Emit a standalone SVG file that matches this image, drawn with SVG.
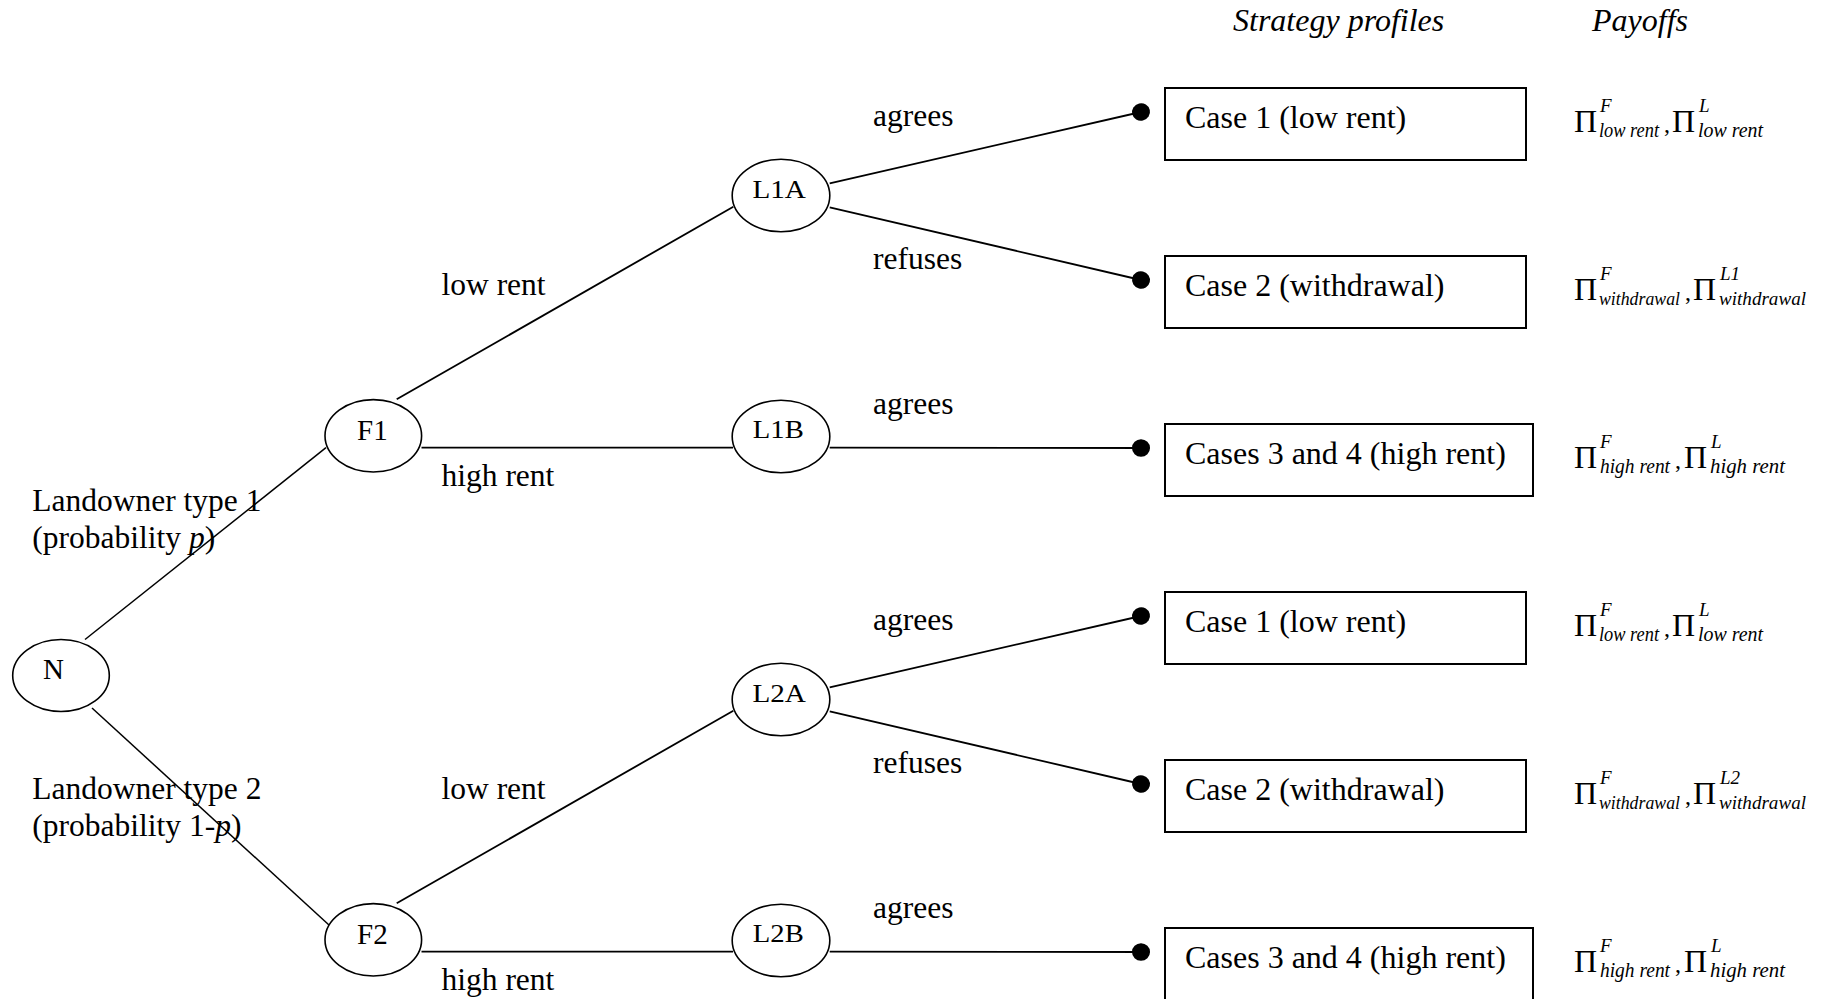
<svg xmlns="http://www.w3.org/2000/svg" width="1822" height="999" viewBox="0 0 1822 999">
<style>
text{font-family:"Liberation Serif","Times New Roman",serif;fill:#000}
.node{fill:#fff;stroke:#000;stroke-width:1.6}
.box{fill:#fff;stroke:#000;stroke-width:2}
.edge{fill:none;stroke:#000;stroke-width:1.8}
.thin{stroke-width:1.5}
.lbl{font-size:31.5px}
.nl{font-size:29px}
.ll{font-size:25px}
.cs{font-size:32px}
.hd{font-size:32px;font-style:italic}
.pi{font-size:32px}
.cm{font-size:24px}
.sp{font-size:19px;font-style:italic}
.sb{font-size:21px;font-style:italic}
.sw{font-size:19px;font-style:italic}
</style>
<defs>
<marker id="dot" viewBox="-10 -10 20 20" markerWidth="19" markerHeight="19" markerUnits="userSpaceOnUse" refX="0" refY="0" orient="auto">
<ellipse cx="0" cy="0" rx="9.5" ry="9.2" fill="#000"/>
</marker>
</defs>
<rect width="1822" height="999" fill="#fff"/>

<g id="connectors">
<line class="edge thin" x1="85" y1="639.5" x2="326" y2="447.7"/>
<line class="edge thin" x1="92" y1="708" x2="329" y2="925"/>
<line class="edge" x1="396.7" y1="399.3" x2="733.3" y2="206.7"/>
<line class="edge" x1="421.5" y1="447.7" x2="733" y2="447.7"/>
<line class="edge" x1="829.7" y1="183.3" x2="1141" y2="112" marker-end="url(#dot)"/>
<line class="edge" x1="829.7" y1="207.3" x2="1141" y2="280" marker-end="url(#dot)"/>
<line class="edge" x1="829.7" y1="447.7" x2="1141" y2="448" marker-end="url(#dot)"/>
<line class="edge" x1="396.7" y1="903.3" x2="733.3" y2="710.7"/>
<line class="edge" x1="421.5" y1="951.7" x2="733" y2="951.7"/>
<line class="edge" x1="829.7" y1="687.3" x2="1141" y2="616" marker-end="url(#dot)"/>
<line class="edge" x1="829.7" y1="711.3" x2="1141" y2="784" marker-end="url(#dot)"/>
<line class="edge" x1="829.7" y1="951.7" x2="1141" y2="952" marker-end="url(#dot)"/>
</g>

<g id="edge-labels">
<text class="lbl" x="32.3" y="511">Landowner type 1</text>
<text class="lbl" x="32.3" y="548">(probability <tspan font-style="italic">p</tspan>)</text>
<text class="lbl" x="32.3" y="799">Landowner type 2</text>
<text class="lbl" x="32.3" y="836">(probability 1-<tspan font-style="italic">p</tspan>)</text>
<text class="lbl" x="441.5" y="295">low rent</text>
<text class="lbl" x="441.5" y="486">high rent</text>
<text class="lbl" x="441.5" y="799">low rent</text>
<text class="lbl" x="441.5" y="990">high rent</text>
<text class="lbl" x="873" y="126">agrees</text>
<text class="lbl" x="873" y="269">refuses</text>
<text class="lbl" x="873" y="414">agrees</text>
<text class="lbl" x="873" y="630">agrees</text>
<text class="lbl" x="873" y="773">refuses</text>
<text class="lbl" x="873" y="918">agrees</text>
</g>

<g id="node-N"><ellipse class="node" cx="61" cy="675.5" rx="48.3" ry="36"/><text class="nl" x="43" y="678.5" font-size="30">N</text></g>
<g id="node-F1"><ellipse class="node" cx="373.3" cy="435.8" rx="48.3" ry="36.2"/><text class="nl" x="357" y="439.5">F1</text></g>
<g id="node-F2"><ellipse class="node" cx="373.3" cy="939.8" rx="48.3" ry="36.2"/><text class="nl" x="357" y="943.5">F2</text></g>
<g id="node-L1A"><ellipse class="node" cx="781" cy="195.5" rx="48.8" ry="36.3"/><text class="ll" x="752.4" y="197.5" textLength="53.5" lengthAdjust="spacingAndGlyphs">L1A</text></g>
<g id="node-L1B"><ellipse class="node" cx="781" cy="436.5" rx="48.8" ry="36.3"/><text class="ll" x="752.8" y="437.5" textLength="51" lengthAdjust="spacingAndGlyphs">L1B</text></g>
<g id="node-L2A"><ellipse class="node" cx="781" cy="699.5" rx="48.8" ry="36.3"/><text class="ll" x="752.4" y="701.5" textLength="53.5" lengthAdjust="spacingAndGlyphs">L2A</text></g>
<g id="node-L2B"><ellipse class="node" cx="781" cy="940.5" rx="48.8" ry="36.3"/><text class="ll" x="752.8" y="941.5" textLength="51" lengthAdjust="spacingAndGlyphs">L2B</text></g>

<g id="headers">
<text class="hd" x="1233" y="31">Strategy profiles</text>
<text class="hd" x="1592" y="31">Payoffs</text>
</g>

<g id="case-1a"><rect class="box" x="1165" y="88" width="361" height="72"/><text class="cs" x="1185" y="128">Case 1 (low rent)</text></g>
<g id="case-2a"><rect class="box" x="1165" y="256" width="361" height="72"/><text class="cs" x="1185" y="296">Case 2 (withdrawal)</text></g>
<g id="case-34a"><rect class="box" x="1165" y="424" width="368" height="72"/><text class="cs" x="1185" y="464">Cases 3 and 4 (high rent)</text></g>
<g id="case-1b"><rect class="box" x="1165" y="592" width="361" height="72"/><text class="cs" x="1185" y="632">Case 1 (low rent)</text></g>
<g id="case-2b"><rect class="box" x="1165" y="760" width="361" height="72"/><text class="cs" x="1185" y="800">Case 2 (withdrawal)</text></g>
<g id="case-34b"><rect class="box" x="1165" y="928" width="368" height="72"/><text class="cs" x="1185" y="968">Cases 3 and 4 (high rent)</text></g>

<g id="payoff-1a"><text><tspan class="pi" x="1574" y="132">Π</tspan><tspan class="sp" x="1600" y="112">F</tspan></text><text class="sb" x="1599" y="137" textLength="60" lengthAdjust="spacingAndGlyphs">low rent</text><text><tspan class="cm" x="1664" y="132">,</tspan><tspan class="pi" x="1672" y="132">Π</tspan><tspan class="sp" x="1699" y="112">L</tspan></text><text class="sb" x="1698" y="137" textLength="65" lengthAdjust="spacingAndGlyphs">low rent</text></g>
<g id="payoff-2a"><text><tspan class="pi" x="1574" y="300">Π</tspan><tspan class="sp" x="1600" y="280">F</tspan></text><text class="sw" x="1599" y="305" textLength="81" lengthAdjust="spacingAndGlyphs">withdrawal</text><text><tspan class="cm" x="1685" y="300">,</tspan><tspan class="pi" x="1693" y="300">Π</tspan><tspan class="sp" x="1720" y="280">L1</tspan></text><text class="sw" x="1719" y="305" textLength="87" lengthAdjust="spacingAndGlyphs">withdrawal</text></g>
<g id="payoff-34a"><text><tspan class="pi" x="1574" y="468">Π</tspan><tspan class="sp" x="1600" y="448">F</tspan></text><text class="sb" x="1600" y="473" textLength="70" lengthAdjust="spacingAndGlyphs">high rent</text><text><tspan class="cm" x="1675" y="468">,</tspan><tspan class="pi" x="1684" y="468">Π</tspan><tspan class="sp" x="1711" y="448">L</tspan></text><text class="sb" x="1710" y="473" textLength="75" lengthAdjust="spacingAndGlyphs">high rent</text></g>
<g id="payoff-1b"><text><tspan class="pi" x="1574" y="636">Π</tspan><tspan class="sp" x="1600" y="616">F</tspan></text><text class="sb" x="1599" y="641" textLength="60" lengthAdjust="spacingAndGlyphs">low rent</text><text><tspan class="cm" x="1664" y="636">,</tspan><tspan class="pi" x="1672" y="636">Π</tspan><tspan class="sp" x="1699" y="616">L</tspan></text><text class="sb" x="1698" y="641" textLength="65" lengthAdjust="spacingAndGlyphs">low rent</text></g>
<g id="payoff-2b"><text><tspan class="pi" x="1574" y="804">Π</tspan><tspan class="sp" x="1600" y="784">F</tspan></text><text class="sw" x="1599" y="809" textLength="81" lengthAdjust="spacingAndGlyphs">withdrawal</text><text><tspan class="cm" x="1685" y="804">,</tspan><tspan class="pi" x="1693" y="804">Π</tspan><tspan class="sp" x="1720" y="784">L2</tspan></text><text class="sw" x="1719" y="809" textLength="87" lengthAdjust="spacingAndGlyphs">withdrawal</text></g>
<g id="payoff-34b"><text><tspan class="pi" x="1574" y="972">Π</tspan><tspan class="sp" x="1600" y="952">F</tspan></text><text class="sb" x="1600" y="977" textLength="70" lengthAdjust="spacingAndGlyphs">high rent</text><text><tspan class="cm" x="1675" y="972">,</tspan><tspan class="pi" x="1684" y="972">Π</tspan><tspan class="sp" x="1711" y="952">L</tspan></text><text class="sb" x="1710" y="977" textLength="75" lengthAdjust="spacingAndGlyphs">high rent</text></g>
</svg>
